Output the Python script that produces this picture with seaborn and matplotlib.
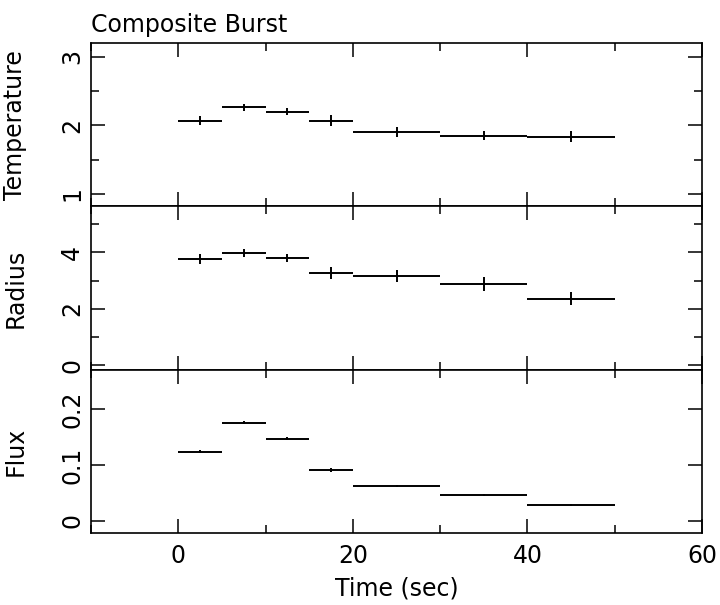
import numpy as np
import matplotlib
matplotlib.use("Agg")
import matplotlib.pyplot as plt
import seaborn as sns
from matplotlib.ticker import MultipleLocator, FixedLocator, FixedFormatter

# --------------------------- DATA ---------------------------
t_start = [0, 5, 10, 15, 20, 30, 40]
t_end = [5, 10, 15, 20, 30, 40, 50]

temperature = [2.07, 2.26, 2.20, 2.07, 1.90, 1.85, 1.83]
temperature_err = [0.07, 0.05, 0.05, 0.08, 0.07, 0.07, 0.08]

radius = [3.76, 3.99, 3.81, 3.27, 3.16, 2.89, 2.36]
radius_err = [0.17, 0.14, 0.15, 0.21, 0.20, 0.24, 0.23]

flux = [0.124, 0.176, 0.147, 0.091, 0.062, 0.046, 0.028]
flux_err = [0.003, 0.003, 0.003, 0.003, 0.002, 0.002, 0.002]

temp_ticks = [1, 2, 3]
radius_ticks = [0, 2, 4]
flux_ticks = [0, 0.1, 0.2]
flux_ticklabels = ["0", "0.1", "0.2"]
x_ticks = [0, 20, 40, 60]

# --------------------------- SETTINGS ---------------------------
sns.set_theme(style="ticks")
plt.rcParams["font.family"] = ["DejaVu Sans"]
plt.rcParams.update({
    "axes.linewidth": 1.2,
    "text.color": "black",
    "axes.labelcolor": "black",
    "xtick.color": "black",
    "ytick.color": "black",
    "axes.edgecolor": "black",
})

FS = 17

t_start = np.array(t_start, dtype=float)
t_end = np.array(t_end, dtype=float)
t_mid = (t_start + t_end) / 2
t_half = (t_end - t_start) / 2

fig, axes = plt.subplots(3, 1, figsize=(7.2, 6.05), dpi=100, sharex=True)
fig.subplots_adjust(left=0.1264, right=0.975, bottom=0.119, top=0.929, hspace=0)

panels = [
    (axes[0], temperature, temperature_err, "Temperature", (0.82, 3.2), temp_ticks, None, 0.5),
    (axes[1], radius, radius_err, "Radius", (-0.15, 5.63), radius_ticks, None, 1),
    (axes[2], flux, flux_err, "Flux", (-0.022, 0.271), flux_ticks, flux_ticklabels, None),
]

for ax, vals, errs, label, ylim, ticks, ticklabels, minor in panels:
    ax.errorbar(t_mid, vals, xerr=t_half, yerr=errs, fmt="none",
                ecolor="black", elinewidth=1.4, capsize=0)
    ax.set_ylim(*ylim)
    ax.yaxis.set_major_locator(FixedLocator(ticks))
    if ticklabels is not None:
        ax.yaxis.set_major_formatter(FixedFormatter(ticklabels))
    if minor is not None:
        ax.yaxis.set_minor_locator(MultipleLocator(minor))
    ax.set_ylabel(label, fontsize=FS)
    ax.yaxis.set_label_coords(-0.104, 0.5)
    ax.tick_params(which="both", direction="in", top=True, right=True,
                   colors="black", labelsize=FS)
    ax.tick_params(which="major", length=10, width=1.1, pad=5)
    ax.tick_params(which="minor", length=6, width=1.1)
    ax.tick_params(axis="x", which="major", pad=8)
    plt.setp(ax.get_yticklabels(), rotation=90, va="center")

axes[2].set_xlim(-10, 60)
axes[2].xaxis.set_major_locator(FixedLocator(x_ticks))
axes[2].xaxis.set_minor_locator(MultipleLocator(10))
axes[2].set_xlabel("Time (sec)", fontsize=FS, labelpad=6)
axes[0].set_title("Composite Burst", loc="left", fontsize=FS, pad=8)

fig.savefig("out.png", dpi=100)
